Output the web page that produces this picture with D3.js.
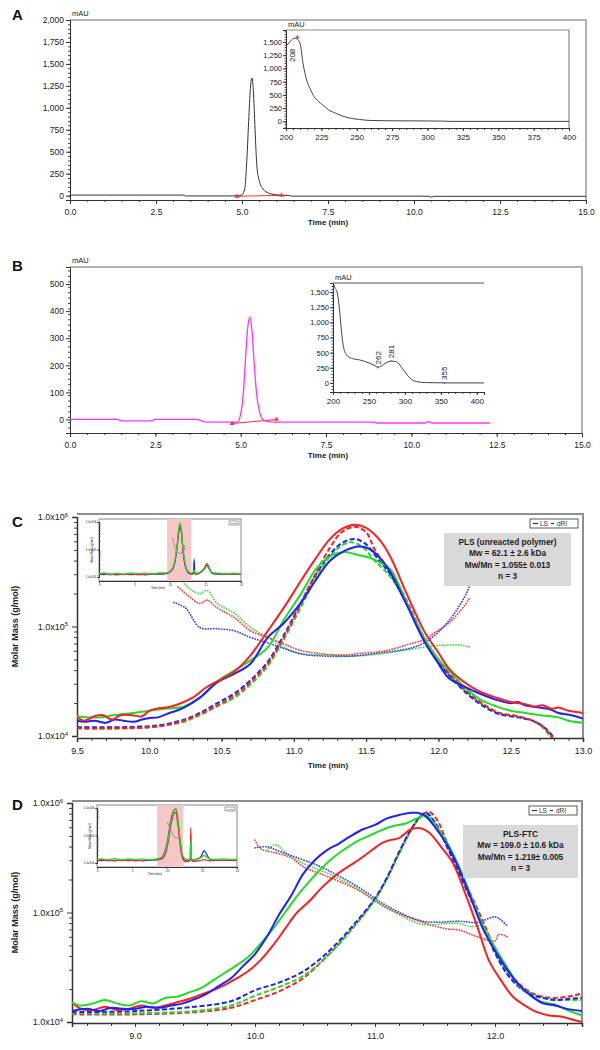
<!DOCTYPE html>
<html><head><meta charset="utf-8">
<script src="https://cdn.jsdelivr.net/npm/d3@7"></script>
<style>body{margin:0;background:#fff}svg{display:block}</style>
</head><body>
<svg id="chart" width="600" height="1050"></svg>
<script>
// ================= DATA =================
// Panel A – HPLC chromatogram (min, mAU)
const chromTimeA = [0, 1.0, 2.0, 3.3, 3.35, 4.6, 4.9, 5.0, 5.08, 5.14, 5.2, 5.25, 5.29, 5.33, 5.38, 5.43, 5.5, 5.6, 5.72, 5.9, 6.1, 6.35, 6.45, 10.2, 10.4, 10.5, 10.6, 10.8, 15.0];
const chromAbsA  = [6, 6, 6, 6, -4, -4, -3, 10, 80, 400, 900, 1250, 1340, 1200, 750, 350, 170, 80, 40, 15, 5, 2, -6, -6, -8, -16, -8, -8, -8];
const baseTimeA = [4.85, 6.15];
const baseAbsA  = [-8, 4];
// Panel A inset – UV spectrum (nm, mAU)
const specWlA  = [200, 202, 204, 206.4, 208, 210, 212, 214.6, 217, 219.3, 222, 226.4, 230, 235.8, 240, 247.6, 252, 259.4, 270, 300, 312, 316, 400];
const specAbsA = [1420, 1480, 1540, 1570, 1550, 1470, 1100, 780, 620, 490, 400, 300, 220, 146, 100, 50, 35, 18, 12, 8, 5, 0, 0];
const peakLabelA = [208];

// Panel B – chromatogram (min, mAU)
const chromTimeB = [0, 1.4, 1.5, 2.4, 2.5, 3.7, 4.0, 4.6, 4.9, 5.0, 5.08, 5.14, 5.2, 5.27, 5.33, 5.4, 5.47, 5.55, 5.65, 5.8, 6.2, 8.9, 9.0, 10.4, 10.5, 10.6, 12.3];
const chromAbsB  = [0, 0, -5, -5, 0, 0, -10, -10, -10, 20, 100, 220, 330, 380, 330, 200, 90, 30, 0, -8, -10, -10, -13, -13, -8, -13, -13];
const baseTimeB = [4.75, 6.05];
const baseAbsB  = [-15, 0];
// Panel B inset – UV spectrum
const specWlB  = [200, 201, 203, 205, 207.5, 210, 212, 214.5, 219, 226, 237, 251, 258, 263, 270, 275, 281, 288, 298, 307, 316, 330, 360, 410];
const specAbsB = [1400, 1620, 1560, 1530, 1370, 1090, 820, 600, 460, 405, 380, 325, 285, 262, 300, 340, 360, 350, 215, 80, 22, 5, 0, 0];
const peakLabelsB = [262, 281, 355];
const peakLabelAbsB = [255, 360, 0];

// Axis ticks
const timeTicksAB = [0, 2.5, 5, 7.5, 10, 12.5, 15];
const absTicksA = [0, 250, 500, 750, 1000, 1250, 1500, 1750, 2000];
const absTicksB = [0, 100, 200, 300, 400, 500];
const wlTicksA = [200, 225, 250, 275, 300, 325, 350, 375, 400];
const wlTicksB = [200, 250, 300, 350, 400];
const specTicks = [0, 250, 500, 750, 1000, 1250, 1500];
const molarTicks = [1e4, 1e5, 1e6];
const timeTicksC = [9.5, 10.0, 10.5, 11.0, 11.5, 12.0, 12.5, 13.0];
const timeTicksD = [9.0, 10.0, 11.0, 12.0];
const insetTimeTicks = [0, 5, 10, 15, 20];

// Panel C – SEC-MALS, values as log10 of axis value (g/mol scale)
const lsRedC = [[9.5,4.17],[9.55,4.14],[9.62,4.18],[9.68,4.19],[9.74,4.15],[9.8,4.19],[9.88,4.19],[9.95,4.18],[10.0,4.23],[10.05,4.25],[10.12,4.26],[10.2,4.29],[10.3,4.35],[10.4,4.45],[10.5,4.52],[10.58,4.58],[10.69,4.72],[10.82,4.96],[10.93,5.17],[11.05,5.42],[11.15,5.62],[11.25,5.8],[11.33,5.89],[11.42,5.93],[11.5,5.9],[11.6,5.78],[11.67,5.63],[11.78,5.3],[11.9,4.96],[12.0,4.76],[12.07,4.62],[12.17,4.5],[12.28,4.41],[12.4,4.35],[12.5,4.31],[12.6,4.29],[12.66,4.27],[12.72,4.28],[12.78,4.25],[12.83,4.26],[12.9,4.23],[12.95,4.22],[13.0,4.21]];
const lsGreenC = [[9.5,4.18],[9.58,4.17],[9.66,4.17],[9.75,4.19],[9.82,4.2],[9.89,4.21],[10.0,4.23],[10.12,4.25],[10.24,4.27],[10.35,4.35],[10.47,4.5],[10.59,4.6],[10.7,4.69],[10.82,4.81],[10.93,5.06],[11.05,5.3],[11.15,5.52],[11.25,5.64],[11.35,5.68],[11.45,5.65],[11.52,5.63],[11.6,5.58],[11.67,5.52],[11.78,5.22],[11.9,4.9],[12.0,4.7],[12.07,4.6],[12.18,4.45],[12.28,4.34],[12.4,4.27],[12.5,4.23],[12.6,4.21],[12.7,4.19],[12.83,4.17],[12.9,4.14],[13.0,4.12]];
const lsBlueC = [[9.5,4.14],[9.55,4.13],[9.62,4.14],[9.7,4.12],[9.76,4.15],[9.82,4.14],[9.89,4.13],[9.95,4.15],[10.0,4.165],[10.06,4.17],[10.12,4.2],[10.24,4.26],[10.35,4.35],[10.47,4.49],[10.59,4.57],[10.7,4.66],[10.82,4.9],[10.93,5.03],[11.05,5.22],[11.15,5.42],[11.25,5.6],[11.35,5.69],[11.45,5.73],[11.52,5.71],[11.6,5.62],[11.67,5.49],[11.78,5.2],[11.9,4.87],[12.0,4.66],[12.07,4.53],[12.18,4.45],[12.28,4.39],[12.4,4.33],[12.5,4.3],[12.55,4.31],[12.6,4.28],[12.7,4.26],[12.78,4.24],[12.83,4.21],[12.92,4.19],[13.0,4.16]];
const driRedC = [[9.5,4.07],[9.8,4.07],[10.0,4.08],[10.12,4.1],[10.24,4.14],[10.35,4.2],[10.47,4.28],[10.59,4.37],[10.7,4.49],[10.82,4.66],[10.93,4.9],[11.05,5.21],[11.15,5.48],[11.25,5.72],[11.33,5.86],[11.42,5.91],[11.5,5.86],[11.56,5.7],[11.67,5.49],[11.79,5.21],[11.9,4.9],[12.02,4.66],[12.14,4.48],[12.28,4.32],[12.42,4.21],[12.55,4.18],[12.65,4.14],[12.72,4.09],[12.78,4.0],[12.85,3.88]];
const driGreenC = [[9.5,4.07],[9.8,4.07],[10.0,4.08],[10.12,4.1],[10.24,4.13],[10.35,4.19],[10.47,4.27],[10.59,4.35],[10.7,4.47],[10.82,4.64],[10.93,4.88],[11.05,5.18],[11.15,5.44],[11.25,5.64],[11.33,5.74],[11.4,5.77],[11.48,5.72],[11.56,5.6],[11.67,5.45],[11.79,5.18],[11.9,4.88],[12.02,4.64],[12.14,4.47],[12.28,4.31],[12.42,4.21],[12.55,4.18],[12.65,4.14],[12.72,4.08],[12.77,4.0],[12.84,3.88]];
const driBlueC = [[9.5,4.08],[9.8,4.08],[10.0,4.09],[10.12,4.11],[10.24,4.15],[10.35,4.21],[10.47,4.3],[10.59,4.39],[10.7,4.51],[10.82,4.68],[10.93,4.92],[11.05,5.22],[11.15,5.47],[11.25,5.66],[11.33,5.76],[11.42,5.8],[11.5,5.75],[11.58,5.62],[11.67,5.47],[11.79,5.18],[11.9,4.88],[12.02,4.64],[12.14,4.46],[12.28,4.3],[12.42,4.2],[12.55,4.17],[12.65,4.14],[12.73,4.08],[12.79,4.0],[12.86,3.88]];
const mmRedC = [[10.2,5.36],[10.28,5.27],[10.35,5.21],[10.4,5.24],[10.47,5.17],[10.59,5.08],[10.7,4.96],[10.82,4.9],[10.93,4.84],[11.05,4.78],[11.2,4.75],[11.35,4.74],[11.5,4.76],[11.6,4.77],[11.7,4.8],[11.8,4.84],[11.9,4.88],[11.97,4.94],[12.07,5.03],[12.18,5.19],[12.22,5.27]];
const mmGreenC = [[10.22,5.48],[10.25,5.38],[10.35,5.3],[10.4,5.33],[10.47,5.21],[10.59,5.12],[10.7,4.99],[10.82,4.9],[10.93,4.81],[11.05,4.75],[11.2,4.74],[11.4,4.73],[11.6,4.75],[11.8,4.79],[11.95,4.82],[12.05,4.83],[12.15,4.83],[12.22,4.81]];
const mmBlueC = [[10.17,5.22],[10.25,5.17],[10.35,4.99],[10.47,4.98],[10.59,4.96],[10.7,4.9],[10.82,4.85],[10.93,4.8],[11.05,4.75],[11.2,4.73],[11.4,4.73],[11.6,4.76],[11.8,4.8],[11.9,4.85],[12.0,4.95],[12.1,5.1],[12.2,5.32],[12.22,5.4]];
// Panel C inset (full run 0–20 min)
const insetTimeC = [0, 0.7, 1.5, 2.5, 3.5, 4.5, 5.5, 6.5, 7.5, 8.5, 9.5, 10.2, 10.7, 11.0, 11.2, 11.4, 11.6, 11.8, 12.1, 12.5, 13.0, 13.3, 13.4, 13.5, 13.8, 14.4, 14.9, 15.2, 15.5, 16.0, 17, 18, 19, 20];
const insetRedC   = [4.1, 4.12, 4.08, 4.1, 4.09, 4.11, 4.08, 4.1, 4.12, 4.13, 4.15, 4.25, 4.6, 5.1, 5.6, 5.9, 5.7, 5.1, 4.5, 4.2, 4.12, 4.15, 4.18, 4.15, 4.12, 4.2, 4.35, 4.5, 4.35, 4.15, 4.12, 4.1, 4.12, 4.1];
const insetGreenC = [4.12, 4.15, 4.1, 4.14, 4.11, 4.15, 4.12, 4.14, 4.11, 4.15, 4.14, 4.25, 4.6, 5.15, 5.7, 5.97, 5.75, 5.15, 4.55, 4.22, 4.14, 4.2, 4.25, 4.18, 4.14, 4.2, 4.3, 4.4, 4.3, 4.15, 4.14, 4.12, 4.14, 4.12];
const insetBlueC  = [4.1, 4.09, 4.11, 4.08, 4.1, 4.09, 4.1, 4.08, 4.1, 4.1, 4.12, 4.22, 4.55, 5.1, 5.55, 5.85, 5.65, 5.05, 4.45, 4.18, 4.1, 4.12, 4.65, 4.12, 4.1, 4.18, 4.3, 4.42, 4.3, 4.12, 4.1, 4.1, 4.1, 4.1];
const insetMmC = [[10.4,5.4],[10.6,5.2],[10.8,5.0],[11.0,4.9],[11.4,4.86],[11.8,4.9],[12.0,5.0],[12.1,5.15]];

// Panel D – SEC-MALS PLS-FTC
const lsRedD = [[8.475,4.18],[8.55,4.12],[8.65,4.11],[8.75,4.14],[8.85,4.11],[8.95,4.12],[9.05,4.15],[9.15,4.13],[9.25,4.15],[9.35,4.18],[9.45,4.21],[9.55,4.25],[9.65,4.29],[9.75,4.34],[9.85,4.4],[9.95,4.47],[10.05,4.57],[10.15,4.7],[10.25,4.85],[10.35,5.0],[10.45,5.1],[10.55,5.22],[10.65,5.32],[10.75,5.4],[10.85,5.47],[10.95,5.55],[11.05,5.63],[11.12,5.66],[11.2,5.68],[11.3,5.76],[11.38,5.77],[11.45,5.73],[11.55,5.6],[11.65,5.45],[11.75,5.18],[11.85,4.88],[11.95,4.56],[12.05,4.38],[12.15,4.23],[12.25,4.15],[12.35,4.09],[12.45,4.06],[12.55,4.05],[12.65,4.02],[12.725,4.0]];
const lsGreenD = [[8.475,4.18],[8.55,4.15],[8.65,4.17],[8.75,4.2],[8.85,4.17],[8.95,4.15],[9.05,4.19],[9.15,4.17],[9.25,4.22],[9.35,4.23],[9.45,4.27],[9.55,4.31],[9.65,4.38],[9.75,4.45],[9.85,4.52],[9.95,4.6],[10.05,4.72],[10.15,4.85],[10.25,5.0],[10.35,5.15],[10.45,5.28],[10.55,5.4],[10.65,5.5],[10.75,5.58],[10.85,5.65],[10.95,5.7],[11.05,5.75],[11.15,5.79],[11.25,5.81],[11.35,5.86],[11.42,5.89],[11.5,5.8],[11.6,5.64],[11.7,5.42],[11.8,5.15],[11.9,4.88],[12.0,4.68],[12.1,4.5],[12.2,4.33],[12.3,4.24],[12.4,4.18],[12.5,4.16],[12.6,4.11],[12.725,4.06]];
const lsBlueD = [[8.475,4.1],[8.6,4.12],[8.7,4.1],[8.8,4.13],[8.9,4.12],[9.0,4.12],[9.1,4.14],[9.2,4.13],[9.3,4.15],[9.4,4.17],[9.5,4.21],[9.6,4.26],[9.7,4.33],[9.8,4.4],[9.9,4.51],[10.0,4.62],[10.1,4.78],[10.2,4.98],[10.3,5.15],[10.4,5.35],[10.5,5.48],[10.6,5.57],[10.7,5.63],[10.8,5.7],[10.9,5.76],[11.0,5.8],[11.1,5.86],[11.2,5.89],[11.3,5.91],[11.35,5.91],[11.42,5.88],[11.5,5.78],[11.6,5.62],[11.7,5.4],[11.8,5.13],[11.9,4.85],[12.0,4.65],[12.1,4.48],[12.2,4.34],[12.3,4.24],[12.4,4.17],[12.5,4.15],[12.6,4.12],[12.725,4.1]];
const driRedD = [[8.475,4.07],[9.0,4.07],[9.5,4.09],[9.8,4.13],[10.0,4.2],[10.2,4.28],[10.4,4.4],[10.6,4.6],[10.8,4.84],[11.0,5.12],[11.1,5.31],[11.2,5.54],[11.3,5.75],[11.38,5.88],[11.45,5.92],[11.52,5.84],[11.6,5.64],[11.7,5.4],[11.8,5.16],[11.9,4.92],[12.0,4.67],[12.1,4.48],[12.2,4.35],[12.3,4.27],[12.4,4.23],[12.5,4.22],[12.6,4.23],[12.725,4.26]];
const driGreenD = [[8.475,4.08],[9.0,4.08],[9.5,4.1],[9.8,4.15],[10.0,4.24],[10.2,4.32],[10.4,4.42],[10.6,4.6],[10.8,4.84],[11.0,5.12],[11.1,5.31],[11.2,5.54],[11.3,5.75],[11.38,5.87],[11.43,5.9],[11.5,5.82],[11.6,5.61],[11.7,5.37],[11.8,5.13],[11.9,4.89],[12.0,4.64],[12.1,4.45],[12.2,4.33],[12.3,4.26],[12.4,4.22],[12.5,4.2],[12.6,4.2],[12.725,4.2]];
const driBlueD = [[8.475,4.09],[9.0,4.1],[9.5,4.14],[9.8,4.19],[10.0,4.29],[10.2,4.36],[10.4,4.46],[10.6,4.63],[10.8,4.86],[11.0,5.13],[11.1,5.32],[11.2,5.55],[11.3,5.76],[11.38,5.88],[11.43,5.91],[11.5,5.82],[11.6,5.6],[11.7,5.36],[11.8,5.12],[11.9,4.88],[12.0,4.63],[12.1,4.44],[12.2,4.32],[12.3,4.25],[12.4,4.22],[12.5,4.2],[12.6,4.21],[12.725,4.22]];
const mmRedD = [[10.0,5.66],[10.05,5.58],[10.15,5.55],[10.3,5.5],[10.4,5.42],[10.6,5.33],[10.85,5.21],[11.1,5.04],[11.4,4.91],[11.6,4.85],[11.7,4.84],[11.85,4.78],[12.0,4.74],[12.03,4.8],[12.1,4.78]];
const mmGreenD = [[10.1,5.57],[10.17,5.62],[10.25,5.55],[10.4,5.45],[10.6,5.36],[10.85,5.22],[11.1,5.04],[11.4,4.89],[11.6,4.9],[11.7,4.9],[11.8,4.87],[11.9,4.89]];
const mmBlueD = [[10.0,5.59],[10.1,5.6],[10.2,5.56],[10.3,5.52],[10.5,5.44],[10.6,5.39],[10.85,5.24],[11.1,5.06],[11.4,4.92],[11.7,4.92],[11.85,4.91],[12.0,4.96],[12.05,4.93],[12.1,4.88]];
// Panel D inset
const insetTimeD = [0, 0.7, 1.5, 2.5, 3.5, 4.5, 5.5, 6.5, 7.5, 8.5, 9.2, 9.8, 10.2, 10.5, 10.8, 11.1, 11.3, 11.6, 11.9, 12.2, 12.6, 13.0, 13.3, 13.4, 13.5, 13.8, 14.4, 14.9, 15.3, 15.7, 16.2, 17, 18, 19, 20];
const insetRedD   = [4.1, 4.12, 4.08, 4.1, 4.09, 4.11, 4.08, 4.1, 4.12, 4.12, 4.15, 4.35, 4.8, 5.3, 5.65, 5.85, 5.8, 5.3, 4.6, 4.2, 4.05, 4.05, 4.1, 5.28, 4.1, 4.05, 4.08, 4.1, 4.12, 4.1, 4.08, 4.1, 4.1, 4.1, 4.1];
const insetGreenD = [4.14, 4.15, 4.12, 4.16, 4.12, 4.15, 4.13, 4.15, 4.12, 4.15, 4.2, 4.45, 4.95, 5.45, 5.75, 5.95, 5.98, 5.5, 4.8, 4.3, 4.15, 4.12, 4.15, 4.8, 4.15, 4.12, 4.15, 4.2, 4.28, 4.2, 4.15, 4.13, 4.15, 4.13, 4.14];
const insetBlueD  = [4.1, 4.09, 4.11, 4.08, 4.1, 4.09, 4.1, 4.08, 4.1, 4.11, 4.18, 4.5, 5.0, 5.5, 5.8, 5.95, 5.95, 5.45, 4.75, 4.25, 4.1, 4.1, 4.12, 4.15, 4.12, 4.1, 4.15, 4.25, 4.45, 4.3, 4.12, 4.1, 4.1, 4.1, 4.1];
const insetMmD = [[10.1,5.45],[10.3,5.35],[10.5,5.22],[10.7,5.1],[10.9,5.0],[11.1,4.95],[11.4,4.9],[11.7,4.92]];

// ================= DRAWING =================
const FONT = '"Liberation Sans", Arial, Helvetica, sans-serif';
const RED = '#ff1f1f', GREEN = '#22dd22', BLUE = '#2020ff', MAG = '#ff33ff';
const svg = d3.select('#chart').attr('font-family', FONT);
const pairs = (xs, ys) => xs.map((v, i) => [v, ys[i]]);

function txt(g, x, y, s, o = {}) {
  const t = g.append('text').attr('x', x).attr('y', y).text(s)
    .attr('font-size', o.size || 9).attr('fill', o.fill || '#222')
    .attr('text-anchor', o.anchor || 'start').attr('font-family', FONT);
  if (o.bold) t.attr('font-weight', 'bold');
  if (o.rotate) t.attr('transform', `rotate(${o.rotate},${x},${y})`);
  return t;
}
function styleAxis(g, size, color) {
  g.attr('font-family', FONT).attr('font-size', size);
  g.selectAll('text').attr('fill', '#222');
  g.select('.domain').attr('stroke', color || '#333');
  g.selectAll('.tick line').attr('stroke', color || '#333');
  return g;
}
function minor(g, axisGen, values, transform, size) {
  const m = g.append('g').attr('transform', transform)
    .call(axisGen.tickValues(values).tickSize(size).tickFormat(''));
  m.select('.domain').remove();
  m.selectAll('.tick line').attr('stroke', '#444');
}

// ---------- Chromatogram panels (A, B) ----------
function chromPanel(cfg) {
  const g = svg.append('g');
  const x = d3.scaleLinear().domain([0, 15]).range([cfg.x0, cfg.x1]);
  const y = d3.scaleLinear().domain(cfg.yDom).range([cfg.y1, cfg.y0]);
  // frame (top / right)
  g.append('path').attr('d', `M${cfg.x0},${cfg.y0}H${cfg.x1}V${cfg.y1}`).attr('fill', 'none').attr('stroke', '#9a9a9a').attr('stroke-width', 1.5);
  minor(g, d3.axisLeft(y), d3.range(cfg.yDom[0], cfg.yDom[1], cfg.yMinor), `translate(${cfg.x0},0)`, 2);
  minor(g, d3.axisBottom(x), d3.range(0, 15.01, 0.5), `translate(0,${cfg.y1})`, 2);
  styleAxis(g.append('g').attr('transform', `translate(${cfg.x0},0)`)
    .call(d3.axisLeft(y).tickValues(cfg.yTicks).tickSize(4).tickPadding(2).tickFormat(d3.format(','))), 8.5);
  styleAxis(g.append('g').attr('transform', `translate(0,${cfg.y1})`)
    .call(d3.axisBottom(x).tickValues(timeTicksAB).tickSize(4).tickPadding(5).tickFormat(d3.format('.1f'))), 8.5);
  txt(g, cfg.x0 + 2, cfg.y0 - 4, 'mAU', { size: 7.5 });
  txt(g, 328, cfg.y1 + 25, 'Time (min)', { size: 8, bold: true, anchor: 'middle' });
  txt(g, 12, cfg.letterY, cfg.letter, { size: 15, bold: true, fill: '#111' });
  const line = d3.line().x(d => x(d[0])).y(d => y(d[1])).curve(d3.curveMonotoneX);
  g.append('path').attr('d', line(pairs(cfg.baseT, cfg.baseV))).attr('fill', 'none').attr('stroke', '#ff3030').attr('stroke-width', 1);
  g.append('path').attr('d', line(pairs(cfg.t, cfg.v))).attr('fill', 'none').attr('stroke', cfg.color).attr('stroke-width', cfg.width);
  cfg.baseT.forEach((t, i) => g.append('path')
    .attr('d', d3.symbol(d3.symbolTriangle, 10)())
    .attr('transform', `translate(${x(t)},${y(cfg.baseV[i])})`).attr('fill', '#ff3030'));
  return { g, x, y };
}

function spectrumInset(g, cfg) {
  const x = d3.scaleLinear().domain(cfg.xDom).range([cfg.x0, cfg.x1]);
  const y = d3.scaleLinear().domain(cfg.yDom).range([cfg.y1, cfg.y0]);
  if (cfg.box) g.append('path').attr('d', `M${cfg.x0},${cfg.y0}H${cfg.x1}V${cfg.y1}`).attr('fill', 'none').attr('stroke', '#8a8a8a').attr('stroke-width', 1.2);
  else g.append('line').attr('x1', cfg.x0).attr('x2', cfg.x1).attr('y1', cfg.y0).attr('y2', cfg.y0).attr('stroke', '#555').attr('stroke-width', 1.2);
  minor(g, d3.axisBottom(x), d3.range(cfg.xDom[0], cfg.xDom[1] + 0.01, cfg.xMinor), `translate(0,${cfg.y1})`, 2);
  minor(g, d3.axisLeft(y), d3.range(-100, cfg.yDom[1], 50), `translate(${cfg.x0},0)`, 1.5);
  styleAxis(g.append('g').attr('transform', `translate(${cfg.x0},0)`)
    .call(d3.axisLeft(y).tickValues(specTicks).tickSize(3).tickPadding(1).tickFormat(d3.format(','))), 7.5);
  styleAxis(g.append('g').attr('transform', `translate(0,${cfg.y1})`)
    .call(d3.axisBottom(x).tickValues(cfg.xTicks).tickSize(3).tickPadding(3)), 8);
  txt(g, cfg.x0 + 2, cfg.y0 - 3, 'mAU', { size: 7.5 });
  const line = d3.line().x(d => x(d[0])).y(d => y(d[1])).curve(d3.curveMonotoneX);
  g.append('path').attr('d', line(pairs(cfg.wl, cfg.abs))).attr('fill', 'none').attr('stroke', '#444').attr('stroke-width', 1);
  return { x, y };
}

// Panel A
const A = chromPanel({ x0: 70, x1: 586, y0: 20, y1: 200, yDom: [-50, 2000], yTicks: absTicksA, yMinor: 50,
  t: chromTimeA, v: chromAbsA, baseT: baseTimeA, baseV: baseAbsA, color: '#333', width: 1, letter: 'A', letterY: 20 });
const iA = spectrumInset(A.g, { x0: 286, x1: 569, y0: 30, y1: 128, xDom: [200, 400], yDom: [-125, 1725], xTicks: wlTicksA, xMinor: 5, box: true, wl: specWlA, abs: specAbsA });
A.g.append('path').attr('d', d3.symbol(d3.symbolTriangle, 8)()).attr('transform', `translate(${iA.x(peakLabelA[0])},${iA.y(1570) - 1})`).attr('fill', '#ff3030');
txt(A.g, iA.x(peakLabelA[0]) - 2, iA.y(1120), String(peakLabelA[0]), { size: 8, rotate: -90 });

// Panel B
const B = chromPanel({ x0: 70, x1: 582, y0: 267, y1: 433, yDom: [-50, 563], yTicks: absTicksB, yMinor: 20,
  t: chromTimeB, v: chromAbsB, baseT: baseTimeB, baseV: baseAbsB, color: MAG, width: 1.3, letter: 'B', letterY: 271 });
const iB = spectrumInset(B.g, { x0: 333, x1: 484, y0: 283, y1: 392, xDom: [200, 410], yDom: [-150, 1650], xTicks: wlTicksB, xMinor: 10, box: false, wl: specWlB, abs: specAbsB });
peakLabelsB.forEach((wl, i) => {
  txt(B.g, iB.x(wl) + 3, iB.y(peakLabelAbsB[i]) - 3, String(wl), { size: 8, rotate: -90 });
  B.g.append('circle').attr('cx', iB.x(wl)).attr('cy', iB.y(peakLabelAbsB[i])).attr('r', 1).attr('fill', i === 1 ? '#ff6060' : '#6060ff');
});

// ---------- SEC panels (C, D) ----------
function secInset(g, cfg) {
  const x = d3.scaleLinear().domain([0, 20]).range([cfg.x0, cfg.x1]);
  const y = d3.scaleLog().domain([1e4, 1e6]).range([cfg.y1 - 4, cfg.y0 + 3]);
  g.append('rect').attr('x', cfg.x0).attr('y', cfg.y0).attr('width', cfg.x1 - cfg.x0).attr('height', cfg.y1 - cfg.y0)
    .attr('fill', '#fff').attr('stroke', '#8a8a8a').attr('stroke-width', 1);
  g.append('rect').attr('x', x(cfg.pink[0])).attr('y', cfg.y0).attr('width', x(cfg.pink[1]) - x(cfg.pink[0])).attr('height', cfg.y1 - cfg.y0)
    .attr('fill', '#f7c6c6');
  const ya = g.append('g').attr('transform', `translate(${cfg.x0},0)`)
    .call(d3.axisLeft(y).tickValues(molarTicks).tickSize(1.5).tickPadding(1).tickFormat(d => '1.0x10' + Math.round(Math.log10(d))));
  styleAxis(ya, 3);
  minor(g, d3.axisRight(y), [2e4, 3e4, 4e4, 5e4, 6e4, 7e4, 8e4, 9e4, 2e5, 3e5, 4e5, 5e5, 6e5, 7e5, 8e5, 9e5], `translate(${cfg.x0},0)`, 1.5);
  const xa = g.append('g').attr('transform', `translate(0,${cfg.y1})`)
    .call(d3.axisBottom(x).tickValues(insetTimeTicks).tickSize(1.5).tickPadding(1));
  styleAxis(xa, 3);
  txt(g, (cfg.x0 + cfg.x1) / 2 - 12, cfg.y1 + 8, 'Time (min)', { size: 3, anchor: 'middle' });
  txt(g, cfg.x0 - 6, (cfg.y0 + cfg.y1) / 2, 'Molar Mass (g/mol)', { size: 3, anchor: 'middle', rotate: -90 });
  g.append('rect').attr('x', cfg.x1 - 12).attr('y', cfg.y0 + 2).attr('width', 10).attr('height', 4).attr('fill', 'none').attr('stroke', '#444').attr('stroke-width', 0.5);
  txt(g, cfg.x1 - 7, cfg.y0 + 5, 'LS dRI', { size: 2.5, anchor: 'middle' });
  const line = d3.line().x(d => x(d[0])).y(d => y(Math.pow(10, d[1]))).curve(d3.curveMonotoneX);
  g.append('path').attr('d', line(cfg.mm)).attr('fill', 'none').attr('stroke', '#8a5a9a').attr('stroke-width', 1.2).attr('stroke-dasharray', '0.1,2').attr('stroke-linecap', 'round');
  [[cfg.blue, BLUE], [cfg.red, RED], [cfg.green, GREEN]].forEach(([vals, col]) => {
    g.append('path').attr('d', line(pairs(cfg.t, vals))).attr('fill', 'none').attr('stroke', col).attr('stroke-width', 1.2);
  });
}

function secPanel(cfg) {
  const g = svg.append('g');
  const x = d3.scaleLinear().domain(cfg.xDom).range([cfg.x0, cfg.x1]);
  const y = d3.scaleLog().domain([1e4, 1e6]).range([cfg.yBottom, cfg.yTop]);
  const clipId = 'clip' + cfg.letter;
  g.append('clipPath').attr('id', clipId).append('rect').attr('x', cfg.x0).attr('y', cfg.y0).attr('width', cfg.x1 - cfg.x0).attr('height', cfg.y1 - cfg.y0);
  g.append('path').attr('d', `M${cfg.x0},${cfg.y0}H${cfg.x1}V${cfg.y1}`).attr('fill', 'none').attr('stroke', '#8f8f8f').attr('stroke-width', 2);
  // axes
  const logMinor = [];
  [1e4, 1e5].forEach(d => d3.range(2, 10).forEach(k => logMinor.push(d * k)));
  minor(g, d3.axisLeft(y), logMinor, `translate(${cfg.x0},0)`, 3);
  const ya = g.append('g').attr('transform', `translate(${cfg.x0},0)`)
    .call(d3.axisLeft(y).tickValues(molarTicks).tickSize(5).tickPadding(4).tickFormat(() => ''));
  styleAxis(ya, 9);
  ya.select('.domain').attr('stroke-width', 1.5);
  ya.selectAll('.tick text').each(function (d) {
    const e = Math.round(Math.log10(d));
    const t = d3.select(this).text('1.0x10');
    t.append('tspan').attr('dy', -3.5).attr('font-size', 6).text(e);
  });
  minor(g, d3.axisBottom(x), cfg.minorX, `translate(0,${cfg.y1})`, 3);
  const xa = g.append('g').attr('transform', `translate(0,${cfg.y1})`)
    .call(d3.axisBottom(x).tickValues(cfg.majorX).tickSize(4).tickPadding(6).tickFormat(d3.format('.1f')));
  styleAxis(xa, 9);
  xa.select('.domain').attr('stroke-width', 1.5);
  txt(g, 18, (cfg.yTop + cfg.yBottom) / 2, 'Molar Mass (g/mol)', { size: 9, bold: true, anchor: 'middle', rotate: -90 });
  if (cfg.timeLabel) txt(g, 328, cfg.y1 + 30, 'Time (min)', { size: 8, bold: true, anchor: 'middle' });
  txt(g, 12, cfg.letterY, cfg.letter, { size: 15, bold: true, fill: '#111' });

  const line = d3.line().x(d => x(d[0])).y(d => y(Math.pow(10, d[1]))).curve(d3.curveCatmullRom.alpha(0.5));
  const plot = g.append('g').attr('clip-path', `url(#${clipId})`);
  cfg.series.forEach(s => {
    plot.append('path').attr('d', line(s.mm)).attr('fill', 'none').attr('stroke', s.color)
      .attr('stroke-width', 1.8).attr('stroke-dasharray', '0.1,2.6').attr('stroke-linecap', 'round').attr('opacity', 0.85);
  });
  cfg.series.forEach(s => {
    plot.append('path').attr('d', line(s.dri)).attr('fill', 'none').attr('stroke', s.color)
      .attr('stroke-width', 2).attr('stroke-dasharray', '5,2.5');
  });
  cfg.series.forEach(s => {
    plot.append('path').attr('d', line(s.ls)).attr('fill', 'none').attr('stroke', s.color).attr('stroke-width', 2);
  });
  // legend
  const lg = g.append('g');
  lg.append('rect').attr('x', cfg.x1 - 53).attr('y', cfg.y0 + 5).attr('width', 48).attr('height', 9).attr('fill', '#fff').attr('stroke', '#333').attr('stroke-width', 0.8);
  lg.append('line').attr('x1', cfg.x1 - 50).attr('x2', cfg.x1 - 45).attr('y1', cfg.y0 + 9.5).attr('y2', cfg.y0 + 9.5).attr('stroke', '#333').attr('stroke-width', 1.2);
  txt(lg, cfg.x1 - 43, cfg.y0 + 12, 'LS', { size: 6.5, fill: '#333' });
  lg.append('line').attr('x1', cfg.x1 - 32).attr('x2', cfg.x1 - 29).attr('y1', cfg.y0 + 9.5).attr('y2', cfg.y0 + 9.5).attr('stroke', '#333').attr('stroke-width', 1.2);
  txt(lg, cfg.x1 - 26, cfg.y0 + 12, 'dRI', { size: 6.5, fill: '#333' });
  // info box
  const b = cfg.info;
  g.append('rect').attr('x', b.x).attr('y', b.y).attr('width', b.w).attr('height', b.h).attr('fill', '#d9d9d9');
  b.lines.forEach((s, i) => txt(g, b.x + b.w / 2, b.y + 12 + i * 11.3, s, { size: 8.3, bold: true, anchor: 'middle', fill: '#222' }));
  secInset(g, cfg.inset);
}

secPanel({ letter: 'C', letterY: 527, x0: 77, x1: 583, y0: 514, y1: 738, xDom: [9.5, 13.0], yTop: 517, yBottom: 736,
  majorX: timeTicksC, minorX: d3.range(9.5, 13.01, 0.1), timeLabel: true,
  series: [
    { color: GREEN, ls: lsGreenC, dri: driGreenC, mm: mmGreenC },
    { color: BLUE, ls: lsBlueC, dri: driBlueC, mm: mmBlueC },
    { color: RED, ls: lsRedC, dri: driRedC, mm: mmRedC }],
  info: { x: 444, y: 533, w: 127, h: 53, lines: ['PLS (unreacted polymer)', 'Mw = 62.1 ± 2.6 kDa', 'Mw/Mn = 1.055± 0.013', 'n = 3'] },
  inset: { x0: 99, x1: 241, y0: 519, y1: 581, pink: [9.6, 13.0], t: insetTimeC, red: insetRedC, green: insetGreenC, blue: insetBlueC, mm: insetMmC }
});

secPanel({ letter: 'D', letterY: 810, x0: 72, x1: 582, y0: 801, y1: 1023, xDom: [8.475, 12.725], yTop: 803, yBottom: 1022,
  majorX: timeTicksD, minorX: d3.range(8.6, 12.7, 0.2), timeLabel: false,
  series: [
    { color: RED, ls: lsRedD, dri: driRedD, mm: mmRedD },
    { color: GREEN, ls: lsGreenD, dri: driGreenD, mm: mmGreenD },
    { color: BLUE, ls: lsBlueD, dri: driBlueD, mm: mmBlueD }],
  info: { x: 463, y: 825, w: 115, h: 53, lines: ['PLS-FTC', 'Mw = 109.0 ± 10.6 kDa', 'Mw/Mn = 1.219± 0.005', 'n = 3'] },
  inset: { x0: 97, x1: 237, y0: 805, y1: 867, pink: [8.6, 12.3], t: insetTimeD, red: insetRedD, green: insetGreenD, blue: insetBlueD, mm: insetMmD }
});
</script>
</body></html>
